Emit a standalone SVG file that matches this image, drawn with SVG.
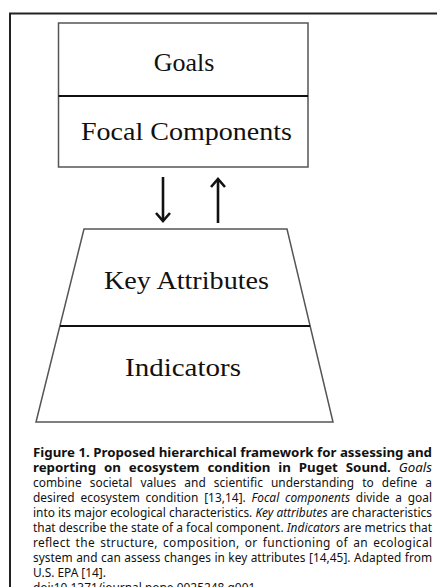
<svg xmlns="http://www.w3.org/2000/svg" width="437" height="587" viewBox="0 0 437 587">
<style>
.lbl{font-family:"Liberation Serif","Times New Roman",serif;font-size:26px;fill:#111;text-anchor:middle}
.cap{font-family:"Noto Sans","Open Sans",sans-serif;font-size:11.9px;fill:#111}
.b{font-weight:bold}
.i{font-style:italic}
.shape{fill:#fff;stroke:#555;stroke-width:1.5}
.div{stroke:#111;stroke-width:2.2}
.arr{stroke:#111;stroke-width:2.6;fill:none}
</style>
<rect width="437" height="587" fill="#fff"/>
<rect x="10" y="13.5" width="440" height="600" fill="none" stroke="#222" stroke-width="2"/>
<g id="goals-box">
<rect class="shape" x="58.5" y="23" width="249.5" height="144"/>
<line class="div" x1="58.5" y1="96" x2="308" y2="96"/>
<text class="lbl" x="184" y="71">Goals</text>
<text class="lbl" x="186.5" y="139.5" textLength="211" lengthAdjust="spacingAndGlyphs">Focal Components</text>
</g>
<g id="attributes-trapezoid">
<polygon class="shape" points="84,229 287,229 333,422 36,422"/>
<line class="div" x1="60" y1="326" x2="310" y2="326"/>
<text class="lbl" x="186.5" y="289" textLength="165" lengthAdjust="spacingAndGlyphs">Key Attributes</text>
<text class="lbl" x="183" y="376" textLength="116" lengthAdjust="spacingAndGlyphs">Indicators</text>
</g>
<g id="connectors">
<line class="arr" x1="163" y1="177" x2="163" y2="220"/>
<polyline class="arr" points="156,213 163,221 170,213"/>
<line class="arr" x1="218" y1="180" x2="218" y2="223"/>
<polyline class="arr" points="211,187 218,179 225,187"/>
</g>
<g id="caption" class="cap">
<text x="33" y="456.5" class="b" textLength="399" lengthAdjust="spacingAndGlyphs">Figure 1. Proposed hierarchical framework for assessing and</text>
<text x="33" y="471.5" word-spacing="4" textLength="399" lengthAdjust="spacingAndGlyphs"><tspan class="b">reporting on ecosystem condition in Puget Sound.</tspan> <tspan class="i">Goals</tspan></text>
<text x="33" y="486.5" word-spacing="5" textLength="399" lengthAdjust="spacing">combine societal values and scientific understanding to define a</text>
<text x="33" y="501.5" word-spacing="2.6" textLength="399" lengthAdjust="spacing">desired ecosystem condition [13,14]. <tspan class="i">Focal components</tspan> divide a goal</text>
<text x="33" y="516.5" textLength="399" lengthAdjust="spacing">into its major ecological characteristics. <tspan class="i">Key attributes</tspan> are characteristics</text>
<text x="33" y="531.5" textLength="399" lengthAdjust="spacing">that describe the state of a focal component. <tspan class="i">Indicators</tspan> are metrics that</text>
<text x="33" y="546.5" word-spacing="1.8" textLength="399" lengthAdjust="spacing">reflect the structure, composition, or functioning of an ecological</text>
<text x="33" y="561.5" word-spacing="0.3" textLength="399" lengthAdjust="spacing">system and can assess changes in key attributes [14,45]. Adapted from</text>
<text x="33" y="576.5">U.S. EPA [14].</text>
<text x="33" y="591.5">doi:10.1371/journal.pone.0025248.g001</text>
</g>
</svg>
